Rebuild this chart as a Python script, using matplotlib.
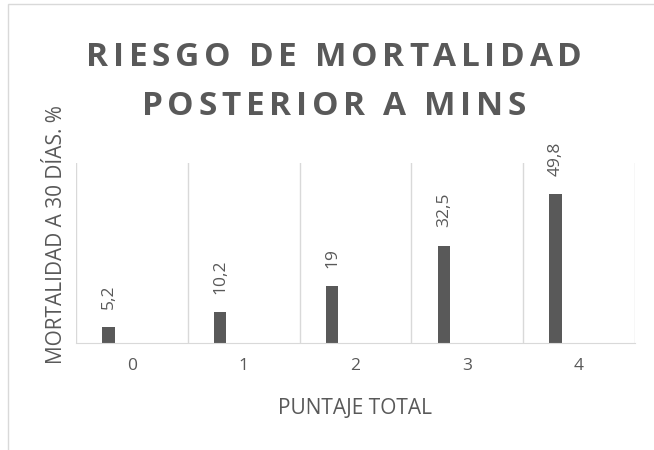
import matplotlib
matplotlib.use("Agg")
import matplotlib.pyplot as plt
from matplotlib import font_manager, ft2font
from matplotlib.font_manager import FontProperties
from matplotlib.patches import Rectangle

## ------------------------------
## data
puntaje = [0, 1, 2, 3, 4]
mortalidad = [5.2, 10.2, 19, 32.5, 49.8]
etiquetas = ["5,2", "10,2", "19", "32,5", "49,8"]
titulo = ["RIESGO DE MORTALIDAD", "POSTERIOR A MINS"]
ylabel = "MORTALIDAD A 30 DÍAS. %"
xlabel = "PUNTAJE TOTAL"

gris = "#595959"
rejilla = "#d9d9d9"
W, H = 654, 450

plt.rcParams["font.family"] = ["Open Sans", "DejaVu Sans"]

fig = plt.figure(figsize=(W / 100, H / 100), dpi=100)
ax = fig.add_axes([76 / W, 1 - 343 / H, (635 - 76) / W, (343 - 163) / H])

# outer chart frame (only left and top visible)
fig.patches.append(Rectangle((8 / W, -0.1), 1.2, 1 - 4 / H + 0.1, transform=fig.transFigure,
                             fill=False, edgecolor=rejilla, lw=1))

ax.bar([p - 0.21 for p in puntaje], mortalidad, width=0.11, color=gris, zorder=3)
for p, v, t in zip(puntaje, mortalidad, etiquetas):
    ax.annotate(t, (p - 0.21, v), xytext=(0, 13), textcoords="offset points",
                rotation=90, ha="center", va="bottom", fontsize=12.5, color=gris)

ax.set_xlim(-0.5, 4.5)
ax.set_ylim(0, 60)
ax.set_yticks([])
ax.set_xticks(puntaje)
ax.set_xticklabels([str(p) for p in puntaje])
ax.tick_params(axis="x", length=0, pad=11, labelsize=12.5, labelcolor=gris)
for b in [-0.5, 0.5, 1.5, 2.5, 3.5, 4.5]:
    ax.axvline(b, color=rejilla, lw=1, zorder=1)
for s in ["top", "left", "right"]:
    ax.spines[s].set_visible(False)
ax.spines["bottom"].set_color(rejilla)
ax.spines["bottom"].set_zorder(4)

# title with letter spacing, drawn char by char
prop = FontProperties(family="Open Sans", weight="bold")
f = ft2font.FT2Font(font_manager.findfont(prop))
f.set_size(24, 100)
adv0 = [f.load_char(ord(c)).linearHoriAdvance / 65536 for c in titulo[0]]
espacio = (496 - sum(adv0)) / (len(titulo[0]) - 1)
for linea, base in zip(titulo, [65.7, 115]):
    adv = [f.load_char(ord(c)).linearHoriAdvance / 65536 for c in linea]
    total = sum(adv) + espacio * (len(linea) - 1)
    x = 334 - total / 2
    for c, a in zip(linea, adv):
        fig.text(x / W, 1 - base / H, c, fontproperties=prop, fontsize=24,
                 color=gris, ha="left", va="baseline")
        x += a + espacio

fig.text(57 / W, 1 - 235 / H, ylabel, rotation=90, ha="center", va="center",
         fontsize=15, color=gris)
fig.text(355.5 / W, 1 - 414 / H, xlabel, ha="center", va="baseline",
         fontsize=15, color=gris)

fig.savefig("out.png", dpi=100)
